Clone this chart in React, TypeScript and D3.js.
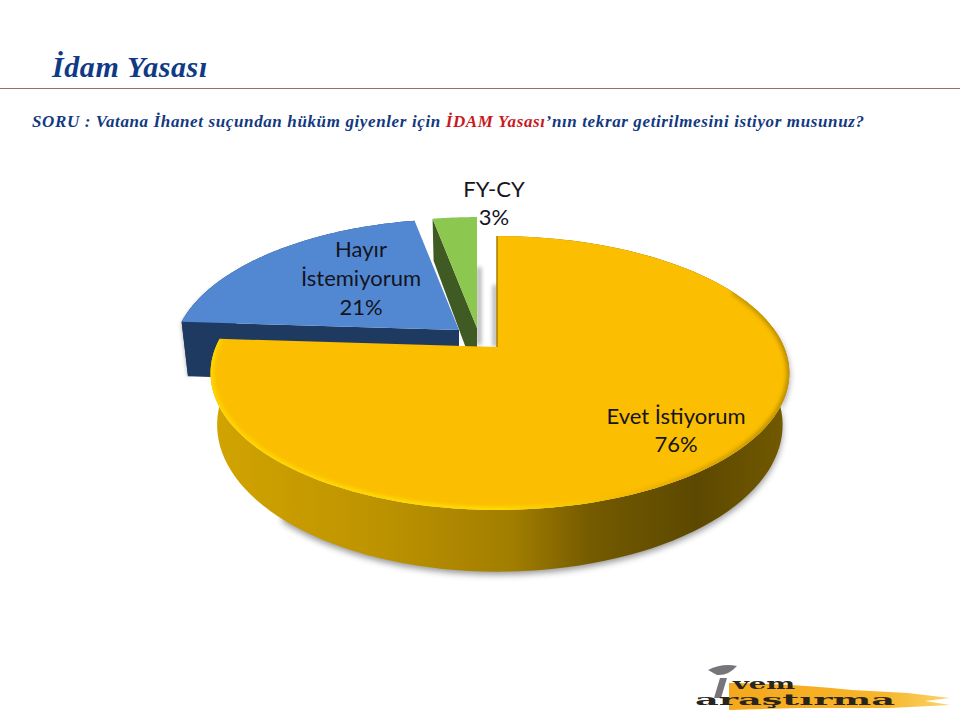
import React from 'react';
import * as d3 from 'd3';

const categories = ['Evet İstiyorum', 'Hayır İstemiyorum', 'FY-CY'];
const values = [76, 21, 3];
const topColors = ['#FBBE00', '#5288D2', '#8CC84F'];
const wallColors = ['url(#wallGold)', '#1F3A60', '#3F5A22'];
// how far each slice is pulled from the centre (px), the pie is exploded
const explodeX = [0, -38, -20];
const explodeY = [0, -17, -19];
const wallLevels = [1, 1.1, 1];

const titleText = 'İdam Yasası';
const questionParts = [
  { text: 'SORU : Vatana İhanet suçundan hüküm giyenler için ', fill: '#12397F' },
  { text: 'İDAM Yasası', fill: '#C8191E' },
  { text: '’nın tekrar getirilmesini istiyor musunuz?', fill: '#12397F' },
];

const cx = 497;
const cy = 347;
const radiusX = 287;
const radiusY = 132;
const tilt = 0.19; // fake perspective, back of the disc gets smaller
const depth = 50;

const pieGen = d3.pie<number>().sort(null).startAngle(0).endAngle(2 * Math.PI);
const arcs = pieGen(values);
const line = d3.line();

// disc coordinates -> screen. level 0 is top face, 1 is bottom face
const project = (a: number, r: number, ox: number, oy: number, level = 0): [number, number] => {
  const u = r * Math.sin(a);
  const v = -r * Math.cos(a);
  const s = 1 / (1 - tilt * v);
  const narrow = level ? 0.977 : 1;
  const lean = u < 0 ? 0.98 : 1; // the disc sits a bit to the right of its centre point
  return [cx + ox + u * radiusX * s * narrow * lean, cy + oy + v * radiusY * s + level * depth * s];
};

const sampleArc = (a0: number, a1: number) => d3.range(0, 121).map((i) => a0 + ((a1 - a0) * i) / 120);

const topPath = (a0: number, a1: number, ox: number, oy: number) =>
  line([project(0, 0, ox, oy), ...sampleArc(a0, a1).map((a) => project(a, 1, ox, oy))]) + 'Z';

const wallPath = (a0: number, a1: number, ox: number, oy: number, level = 1) => {
  const angles = sampleArc(a0, a1);
  return (
    line([
      ...angles.map((a) => project(a, 1, ox, oy)),
      ...angles.slice().reverse().map((a) => project(a, 1, ox, oy, level)),
    ]) + 'Z'
  );
};

// the flat cut side of a slice, from centre to rim
const cutPath = (a: number, ox: number, oy: number, level = 1) =>
  line([project(0, 0, ox, oy), project(a, 1, ox, oy), project(a, 1, ox, oy, level), project(0, 0, ox, oy, level)]) + 'Z';

const labelFont = 'Lato, "Noto Sans", sans-serif';
const serif = '"Liberation Serif", serif';

const App = () => {
  const [gold, blue, green] = arcs;
  return (
    <svg
      width={960}
      height={720}
      style={{ position: 'absolute', left: 0, top: 0, background: '#fff' }}
    >
      <defs>
        <linearGradient id="wallGold" gradientUnits="userSpaceOnUse" x1={212} x2={788} y1={0} y2={0}>
          <stop offset="0" stopColor="#D2A400" />
          <stop offset="0.3" stopColor="#BC9200" />
          <stop offset="0.52" stopColor="#A27E00" />
          <stop offset="0.66" stopColor="#745A00" />
          <stop offset="0.84" stopColor="#5C4800" />
          <stop offset="1" stopColor="#735A00" />
        </linearGradient>
        <linearGradient id="rim" gradientUnits="userSpaceOnUse" x1={212} x2={788} y1={0} y2={0}>
          <stop offset="0" stopColor="#FFDC00" />
          <stop offset="0.5" stopColor="#FFE400" />
          <stop offset="0.75" stopColor="#EDB000" />
          <stop offset="1" stopColor="#B08600" />
        </linearGradient>
        <linearGradient id="brush" x1="0" x2="1" y1="0" y2="0">
          <stop offset="0" stopColor="#F5A81C" />
          <stop offset="0.7" stopColor="#F7B52A" />
          <stop offset="1" stopColor="#FBD56A" />
        </linearGradient>
        <filter id="soft" x="-10%" y="-10%" width="120%" height="120%">
          <feGaussianBlur stdDeviation="2" />
        </filter>
        <filter id="softer" x="-10%" y="-10%" width="120%" height="120%">
          <feGaussianBlur stdDeviation="3" />
        </filter>
        <clipPath id="goldClip">
          <path d={topPath(gold.startAngle, gold.endAngle, explodeX[0], explodeY[0])} />
        </clipPath>
      </defs>

      <text x={52} y={77} fontFamily={serif} fontWeight="bold" fontStyle="italic" fontSize={30} fill="#0F3A85" letterSpacing={0.6}>
        {titleText}
      </text>
      <line x1={0} x2={960} y1={88.5} y2={88.5} stroke="#9C6F66" strokeWidth={1} />
      <text x={32} y={127} fontFamily={serif} fontWeight="bold" fontStyle="italic" fontSize={17} textLength={832} lengthAdjust="spacing">
        {questionParts.map((p) => (
          <tspan key={p.text} fill={p.fill}>
            {p.text}
          </tspan>
        ))}
      </text>

      {/* shadows that fall in the gap and under the disc */}
      <g fill="#8A8A8A" filter="url(#soft)" opacity={0.75}>
        <rect x={cx + explodeX[2]} y={cy - 80} width={4} height={78} />
        <rect x={cx - 4} y={cy - 62} width={4} height={62} />
      </g>
      <path
        d={wallPath(gold.startAngle + 1.4, gold.endAngle - 0.9, 0, 3)}
        fill="#555"
        opacity={0.6}
        filter="url(#softer)"
      />
      <path d={wallPath(blue.startAngle, blue.startAngle + 0.4, explodeX[1], explodeY[1] + 2, wallLevels[1])} fill="#777" opacity={0.6} filter="url(#soft)" />

      {/* back to front: green, blue, gold */}
      <path d={cutPath(green.startAngle, explodeX[2], explodeY[2])} fill={wallColors[2]} />
      <path d={topPath(green.startAngle, green.endAngle, explodeX[2], explodeY[2])} fill={topColors[2]} />

      <path d={wallPath(blue.startAngle, blue.endAngle, explodeX[1], explodeY[1], wallLevels[1])} fill={wallColors[1]} />
      <path d={cutPath(blue.startAngle, explodeX[1], explodeY[1], wallLevels[1])} fill={wallColors[1]} />
      <path d={topPath(blue.startAngle, blue.endAngle, explodeX[1], explodeY[1])} fill={topColors[1]} />

      <path d={wallPath(gold.startAngle, gold.endAngle, explodeX[0], explodeY[0])} fill={wallColors[0]} />
      <path d={topPath(gold.startAngle, gold.endAngle, explodeX[0], explodeY[0])} fill={topColors[0]} />
      <g clipPath="url(#goldClip)">
        <path
          d={line(sampleArc(1.1, gold.endAngle).map((a) => project(a, 1, 0, 0)))!}
          fill="none"
          stroke="url(#rim)"
          strokeWidth={5}
          filter="url(#soft)"
        />
      </g>
      <line
        x1={project(0, 0, 0, 0)[0]}
        x2={project(0, 1, 0, 0)[0]}
        y1={project(0, 0, 0, 0)[1]}
        y2={project(0, 1, 0, 0)[1]}
        stroke="#A67C00"
        strokeWidth={1.5}
      />

      <g fontFamily={labelFont} fontSize={22} fill="#14141E" textAnchor="middle">
        <text x={494} y={197}>{categories[2]}</text>
        <text x={494} y={225}>{values[2]}%</text>
        <text x={361} y={257}>Hayır</text>
        <text x={361} y={286}>İstemiyorum</text>
        <text x={361} y={315}>{values[1]}%</text>
        <text x={676} y={424}>{categories[0]}</text>
        <text x={676} y={452}>{values[0]}%</text>
      </g>

      {/* logo */}
      <g>
        <path
          d="M729 683 Q800 684 852 690 L908 693 L950 698 L925 701 L950 705 L890 708 L800 708 L729 710 Z"
          fill="url(#brush)"
        />
        <path d="M708 670 Q722 663 737 666 Q728 676 717 675 Z" fill="#77757A" />
        <path d="M720 678 L727 678 L721 698 L714 698 Z" fill="#77757A" />
        <text x={733} y={689} fontFamily='"DejaVu Serif", serif' fontSize={14} fontWeight="bold" fill="#2A251C" textLength={62} lengthAdjust="spacingAndGlyphs">
          vem
        </text>
        <text x={695} y={705} fontFamily='"DejaVu Serif", serif' fontSize={14} fontWeight="bold" fill="#2A251C" textLength={200} lengthAdjust="spacingAndGlyphs">
          araştırma
        </text>
      </g>
    </svg>
  );
};

export default App;
